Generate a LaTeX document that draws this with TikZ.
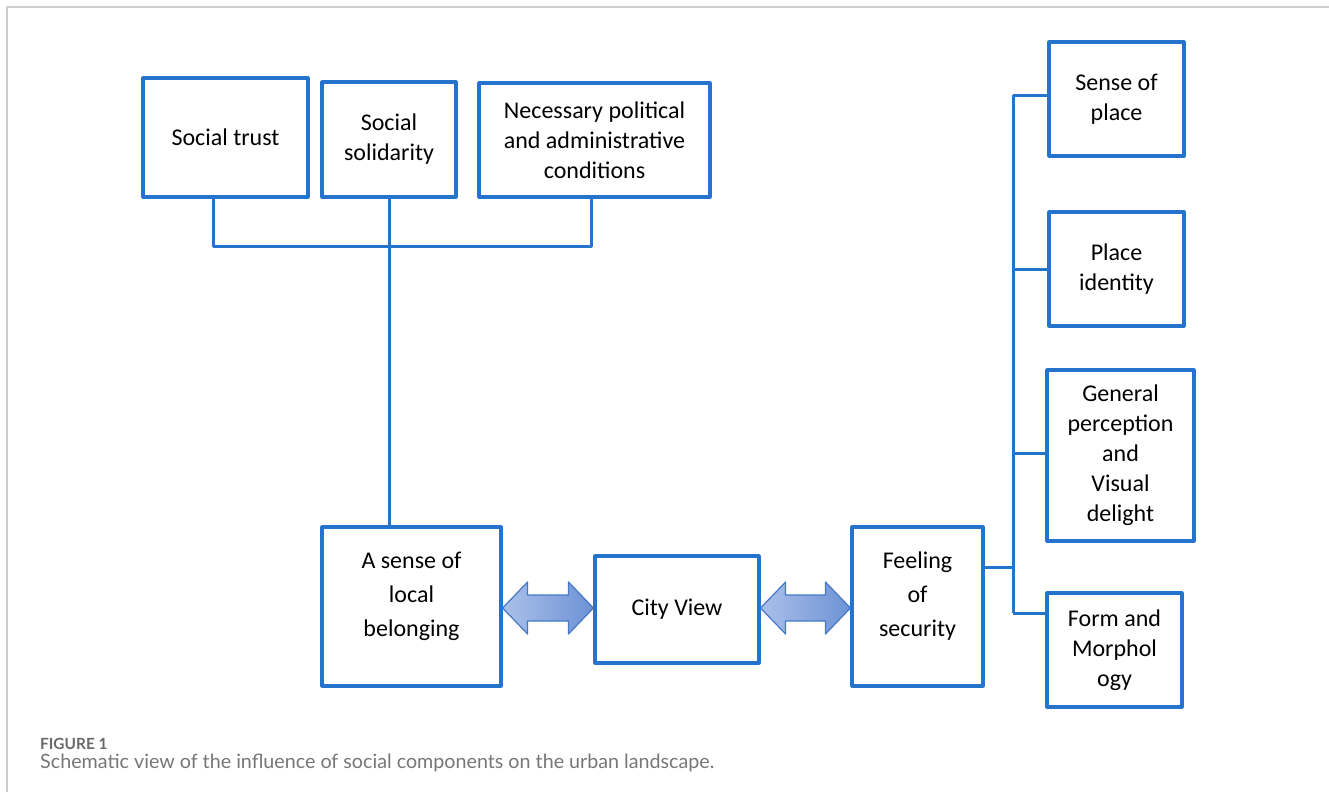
\documentclass[tikz,border=0pt]{standalone}
\usepackage{fontspec}
\setmainfont{Carlito}
\newfontfamily\capfont{Lato}
\usetikzlibrary{calc}
\definecolor{boxblue}{RGB}{36,116,206}
\definecolor{arrowline}{RGB}{70,120,200}
\definecolor{arrowlight}{RGB}{170,192,232}
\definecolor{arrowdark}{RGB}{110,146,214}
\definecolor{framegray}{RGB}{205,205,205}
\definecolor{capgray}{RGB}{118,118,118}
\definecolor{labgray}{RGB}{105,105,105}
\tikzset{
  box/.style={draw=boxblue, line width=3.1pt, align=center, inner sep=2pt,
    font=\fontsize{24}{30}\selectfont},
  tallbox/.style={box, font=\fontsize{24}{34}\selectfont, text depth=25pt},
  link/.style={draw=boxblue, line width=3pt},
  dblfill/.style={draw=arrowline, line width=1.2pt, left color=arrowlight, right color=arrowdark},
}
% double block arrow between two boxes
\newcommand\dblarrow[2]{%
  \path[dblfill] let \p1=(#1.east), \p2=(#2.west), \n1={(\y1+\y2)/2} in
    (\x1,\n1) -- (\x1+25pt,\n1+26pt) -- (\x1+25pt,\n1+13pt) -- (\x2-25pt,\n1+13pt)
    -- (\x2-25pt,\n1+26pt) -- (\x2,\n1) -- (\x2-25pt,\n1-26pt) -- (\x2-25pt,\n1-13pt)
    -- (\x1+25pt,\n1-13pt) -- (\x1+25pt,\n1-26pt) -- cycle;}
\begin{document}
\begin{tikzpicture}[x=1pt, y=-1pt, line join=round]
\useasboundingbox (0,0) rectangle (1329,792);
\draw[framegray, line width=1.5pt] (7,792) -- (7,7) -- (1329,7);

% top row
\node[box, minimum width=165, minimum height=119] (trust) at (225.5,137.5) {Social trust};
\node[box, minimum width=134, minimum height=115] (solid) at (389,139.5) {Social\\solidarity};
\node[box, minimum width=231, minimum height=114] (polit) at (594.5,140) {Necessary political\\and administrative\\conditions};

% bottom row
\node[tallbox, minimum width=179, minimum height=159] (belong) at (411.5,606.5) {A sense of\\local\\belonging};
\node[box, minimum width=164, minimum height=107] (city) at (677,609.5) {City View};
\node[tallbox, minimum width=131, minimum height=159] (secur) at (917.5,606.5) {Feeling\\of\\security};

% right column
\node[box, minimum width=135, minimum height=114] (place) at (1116.5,99) {Sense of\\place};
\node[box, minimum width=135, minimum height=114] (ident) at (1116.5,269) {Place\\identity};
\node[box, minimum width=147, minimum height=171] (percep) at (1120.5,455.5) {General\\perception\\and\\Visual\\delight};
\node[box, minimum width=135, minimum height=114] (form) at (1114.5,650) {Form and\\Morphol\\ogy};

% connectors
\draw[link] ([xshift=-12.5pt]trust.south) -- ++(0,48) -| ([xshift=-3.5pt]polit.south);
\draw[link] (solid.south) -- (solid.south |- belong.north);

\coordinate (sp1) at (1013,95);
\coordinate (sp2) at (1013,269);
\coordinate (sp3) at (1013,453);
\coordinate (sp4) at (1013,613);
\coordinate (spf) at (1013,567);
\draw[link] (sp1) -- (sp4);
\draw[link] (sp1) -- (sp1 -| place.west);
\draw[link] (sp2) -- (sp2 -| ident.west);
\draw[link] (sp3) -- (sp3 -| percep.west);
\draw[link] (sp4) -- (sp4 -| form.west);
\draw[link] (spf -| secur.east) -- (spf);

\dblarrow{belong}{city}
\dblarrow{city}{secur}

% caption
\node[anchor=base west, inner sep=0, text=labgray, font=\capfont\bfseries\fontsize{15.4}{17}\selectfont] (figlabel) at (40,749) {FIGURE 1};
\node[anchor=base west, inner sep=0, text=capgray, font=\capfont\fontsize{19.7}{22}\selectfont] (figcap) at (40,768) {Schematic view of the influence of social components on the urban landscape.};
\end{tikzpicture}
\end{document}
